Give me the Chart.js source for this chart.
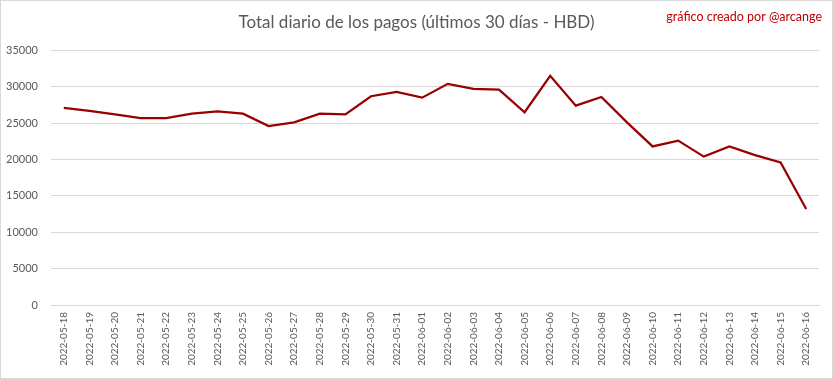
<!DOCTYPE html>
<html>
<head>
<meta charset="utf-8">
<script src="https://cdn.jsdelivr.net/npm/chart.js@4/dist/chart.umd.min.js"></script>
<style>
html,body{margin:0;padding:0;background:#fff;}
#wrap{width:833px;height:379px;position:relative;}
</style>
</head>
<body>
<div id="wrap"><canvas id="c" width="833" height="379"></canvas></div>
<script>
const categories = ["2022-05-18","2022-05-19","2022-05-20","2022-05-21","2022-05-22","2022-05-23","2022-05-24","2022-05-25","2022-05-26","2022-05-27","2022-05-28","2022-05-29","2022-05-30","2022-05-31","2022-06-01","2022-06-02","2022-06-03","2022-06-04","2022-06-05","2022-06-06","2022-06-07","2022-06-08","2022-06-09","2022-06-10","2022-06-11","2022-06-12","2022-06-13","2022-06-14","2022-06-15","2022-06-16"];
const paymentsHBD = [27100,26700,26200,25700,25700,26300,26600,26300,24600,25100,26300,26200,28700,29300,28500,30400,29700,29600,26500,31500,27400,28600,25100,21800,22600,20400,21800,20600,19600,13200];
const titleText = "Total diario de los pagos (últimos 30 días - HBD)";
const watermarkText = "gráfico creado por @arcange";
const yMin = 0, yMax = 35000, yStep = 5000;

const extras = {
  id: 'extras',
  beforeDraw(chart) {
    const ctx = chart.ctx;
    ctx.save();
    ctx.fillStyle = '#ffffff';
    ctx.fillRect(0, 0, chart.width, chart.height);
    ctx.strokeStyle = '#d9d9d9';
    ctx.lineWidth = 1;
    ctx.strokeRect(0.5, 0.5, chart.width - 1, chart.height - 1);
    ctx.restore();
  },
  afterDraw(chart) {
    const ctx = chart.ctx;
    ctx.save();
    ctx.fillStyle = '#c00000';
    ctx.font = '12.5px Lato, "Open Sans", sans-serif';
    ctx.textAlign = 'right';
    ctx.textBaseline = 'middle';
    ctx.fillText(watermarkText, 822, 17);
    ctx.restore();
  }
};

new Chart(document.getElementById('c'), {
  type: 'line',
  data: {
    labels: categories,
    datasets: [{
      data: paymentsHBD,
      borderColor: '#990000',
      backgroundColor: '#990000',
      borderWidth: 2.25,
      pointRadius: 0,
      tension: 0,
      fill: false
    }]
  },
  options: {
    responsive: false,
    animation: false,
    layout: { padding: { left: 0, right: 0, top: 0, bottom: 0 } },
    plugins: {
      legend: { display: false },
      tooltip: { enabled: false },
      title: {
        display: true,
        text: titleText,
        color: '#595959',
        font: { family: 'Lato, "Open Sans", sans-serif', size: 17, weight: 'normal' },
        padding: { top: 12, bottom: 18 }
      }
    },
    scales: {
      x: {
        offset: true,
        grid: { display: false, drawTicks: false },
        border: { display: true, color: '#d9d9d9' },
        ticks: {
          color: '#595959',
          font: { family: 'Lato, "Open Sans", sans-serif', size: 10 },
          minRotation: 90, maxRotation: 90,
          autoSkip: false,
          padding: 7
        },
        afterFit(scale) { scale.height = 74; }
      },
      y: {
        min: yMin, max: yMax,
        grid: { color: '#d9d9d9', drawTicks: false },
        border: { display: false },
        ticks: {
          stepSize: yStep,
          color: '#595959',
          font: { family: 'Lato, "Open Sans", sans-serif', size: 11 },
          padding: 13,
          callback: (v) => String(v)
        },
        afterFit(scale) { scale.width = 51; }
      },
      spacer: {
        type: 'linear',
        position: 'right',
        display: true,
        grid: { display: false, drawTicks: false },
        border: { display: false },
        ticks: { display: false },
        afterFit(scale) { scale.width = 14; }
      }
    }
  },
  plugins: [extras]
});
</script>
</body>
</html>
